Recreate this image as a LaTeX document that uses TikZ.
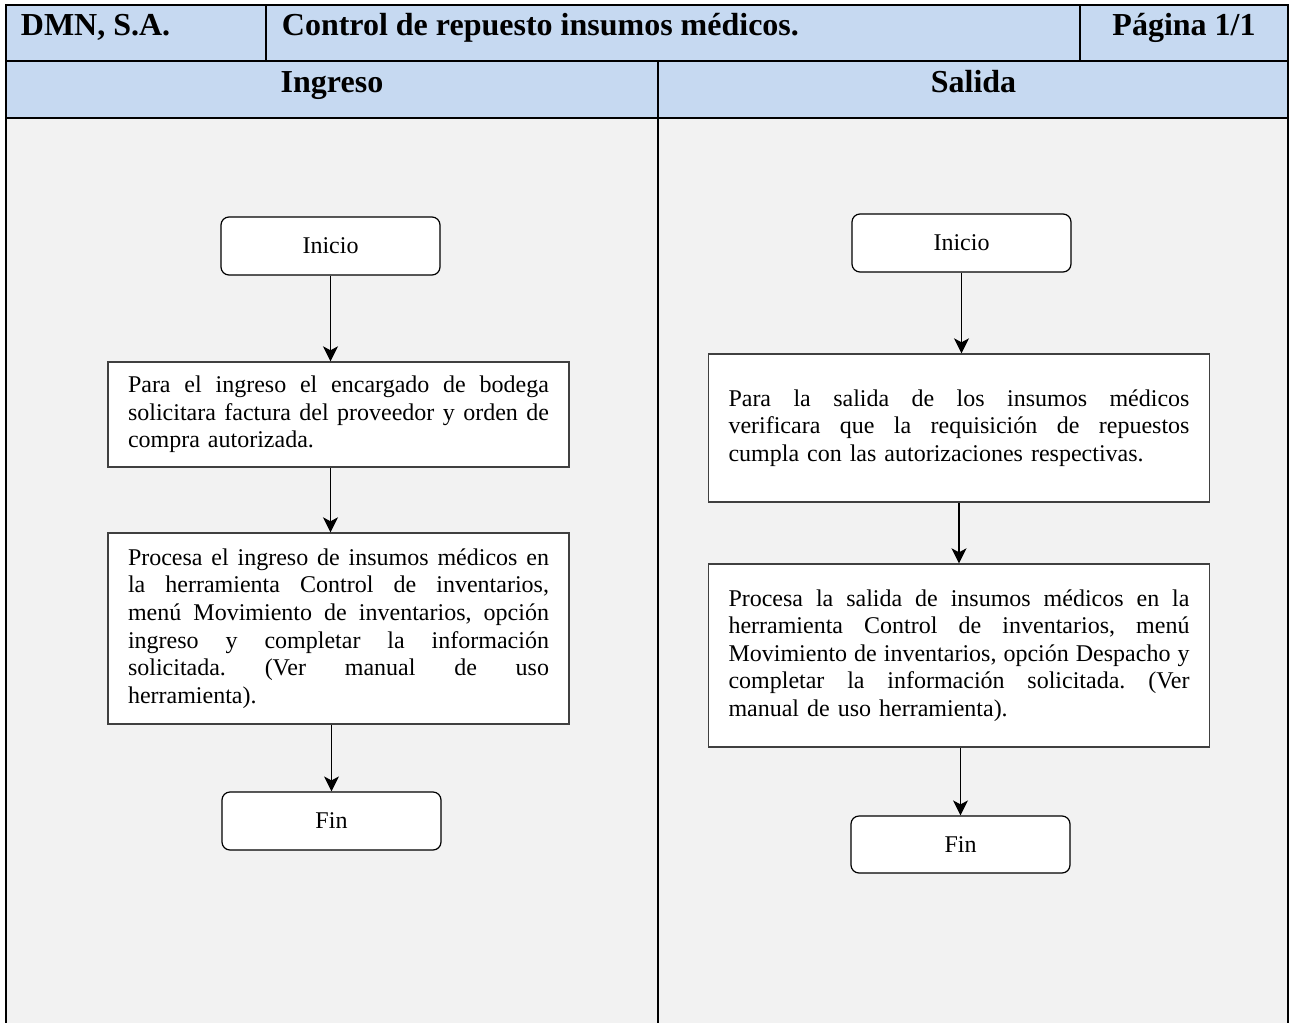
\documentclass[tikz,border=0pt]{standalone}
\usepackage{fontspec}
\setmainfont{Liberation Serif}
\usetikzlibrary{arrows.meta}
\definecolor{headblue}{HTML}{C6D9F1}
\definecolor{bodygray}{HTML}{F2F2F2}
\definecolor{boxline}{HTML}{404040}
\frenchspacing
% a line of a paragraph stretched to the full width of its box
% (the font's own stretchable word spaces are restored first)
\newcommand\fullline[1]{\makebox[\hsize][s]{\spaceskip=0pt\xspaceskip=0pt #1}}

\begin{document}
\begin{tikzpicture}[x=0.5pt,y=-0.5pt,
  headtext/.style={font=\fontsize{16}{18}\selectfont\bfseries, inner sep=0pt},
  terminal/.style={draw=black, line width=0.6pt, fill=white, rounded corners=4pt,
    minimum width=109.5pt, minimum height=29pt, inner sep=0pt,
    font=\fontsize{12}{13.8}\selectfont},
  process/.style={draw=boxline, line width=0.7pt, fill=white, inner xsep=10pt,
    inner ysep=0pt, align=left, font=\fontsize{12}{13.8}\selectfont},
  flow/.style={-{Stealth[length=7.5pt,width=7.5pt,inset=2pt]}, line width=0.6pt},
  frame/.style={line width=1pt}]

\useasboundingbox (0,0) rectangle (1291,1023);

% table backgrounds
\fill[headblue] (6,5) rectangle (1288,118);
\fill[bodygray] (6,118) rectangle (1288,1023);

% table rules
\draw[frame] (6,1023) -- (6,5) -- (1288,5) -- (1288,1023);
\draw[frame] (6,61) -- (1288,61);
\draw[frame] (6,118) -- (1288,118);
\draw[frame] (266,5) -- (266,61);
\draw[frame] (1080,5) -- (1080,61);
\draw[frame] (658,61) -- (658,1023);

% header texts
\node[headtext, anchor=base west] (company) at (20.5,35) {DMN, S.A.};
\node[headtext, anchor=base west] (title) at (281.5,35) {Control de repuesto insumos médicos.};
\node[headtext, anchor=base] (page) at (1184,35) {Página 1/1};
\node[headtext, anchor=base] (laneA) at (332,92) {Ingreso};
\node[headtext, anchor=base] (laneB) at (973.5,92) {Salida};

% Ingreso lane
\node[terminal] (iniA) at (330.5,246) {Inicio};
\node[process, text width=210.5pt, minimum height=52.5pt] (recvA) at (338.5,414.5)
  {\fullline{Para el ingreso el encargado de bodega}\\
   \fullline{solicitara factura del proveedor y orden de}\\
   compra autorizada.};
\node[process, text width=210.5pt, minimum height=95.5pt] (procA) at (338.5,628.5)
  {\fullline{Procesa el ingreso de insumos médicos en}\\
   \fullline{la herramienta Control de inventarios,}\\
   \fullline{menú Movimiento de inventarios, opción}\\
   \fullline{ingreso y completar la información}\\
   \fullline{solicitada. (Ver manual de uso}\\
   herramienta).};
\node[terminal] (finA) at (331.5,821) {Fin};

\draw[flow] (iniA.south) -- (iniA.south |- recvA.north);
\draw[flow] (iniA.south |- recvA.south) -- (iniA.south |- procA.north);
\draw[flow] (finA.north |- procA.south) -- (finA.north);

% Salida lane
\node[terminal] (iniB) at (961.5,243) {Inicio};
\node[process, text width=230.5pt, minimum height=74pt] (checkB) at (959,428)
  {\fullline{Para la salida de los insumos médicos}\\
   \fullline{verificara que la requisición de repuestos}\\
   cumpla con las autorizaciones respectivas.};
\node[process, text width=230.5pt, minimum height=91.5pt] (procB) at (959,655.5)
  {\fullline{Procesa la salida de insumos médicos en la}\\
   \fullline{herramienta Control de inventarios, menú}\\
   \fullline{Movimiento de inventarios, opción Despacho y}\\
   \fullline{completar la información solicitada. (Ver}\\
   manual de uso herramienta).};
\node[terminal, minimum height=28.5pt] (finB) at (960.5,844.5) {Fin};

\draw[flow] (iniB.south) -- (iniB.south |- checkB.north);
\draw[flow] (checkB.south) -- (checkB.south |- procB.north);
\draw[flow] (finB.north |- procB.south) -- (finB.north);

\end{tikzpicture}
\end{document}
